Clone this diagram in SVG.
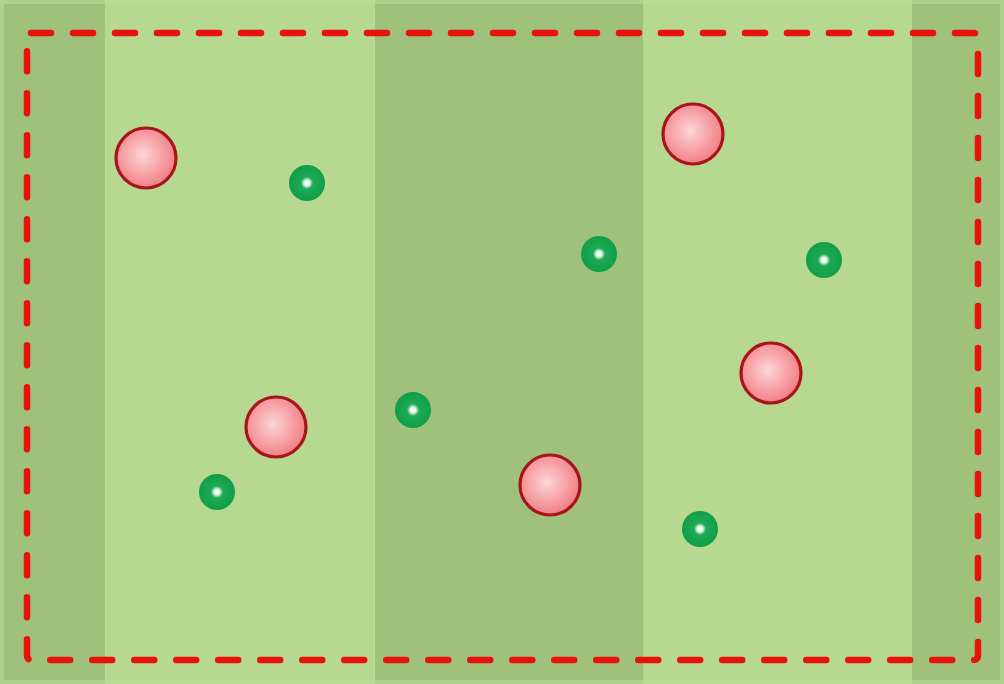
<svg xmlns="http://www.w3.org/2000/svg" width="1004" height="684" viewBox="0 0 1004 684">
  <defs>
    <radialGradient id="redFill" cx="0.45" cy="0.45" r="0.6">
      <stop offset="0" stop-color="#fbd6d6"/>
      <stop offset="0.5" stop-color="#f7a6aa"/>
      <stop offset="1" stop-color="#f07880"/>
    </radialGradient>
    <radialGradient id="greenFill" cx="0.5" cy="0.5" r="0.5">
      <stop offset="0" stop-color="#ffffff"/>
      <stop offset="0.16" stop-color="#dff5e4"/>
      <stop offset="0.34" stop-color="#1caa55"/>
      <stop offset="1" stop-color="#119e49"/>
    </radialGradient>
    <style>
      .light { fill: #b7d890; }
      .dark { fill: #9fc17c; }
      .tree { fill: url(#redFill); stroke: #a8141a; stroke-width: 3.2; }
      .dot { fill: url(#greenFill); }
      .border { fill: none; stroke: #e8120c; stroke-width: 6.5; stroke-dasharray: 20 22; stroke-linecap: round; stroke-linejoin: round; }
    </style>
  </defs>

  <g id="field">
    <rect class="light" x="0" y="0" width="1004" height="684"/>
    <rect class="dark" x="0" y="0" width="105" height="684"/>
    <rect class="light" x="105" y="0" width="270" height="684"/>
    <rect class="dark" x="375" y="0" width="268" height="684"/>
    <rect class="light" x="643" y="0" width="269" height="684"/>
    <rect class="dark" x="912" y="0" width="92" height="684"/>
    <rect x="2" y="2" width="1000" height="680" fill="none" stroke="#bcdc9a" stroke-width="4" opacity="0.6"/>
  </g>

  <g id="boundary">
    <rect class="border" x="27" y="33" width="951" height="627" rx="4"/>
  </g>

  <g id="trees">
    <circle class="tree" cx="146" cy="158" r="30"/>
    <circle class="tree" cx="693" cy="134" r="30"/>
    <circle class="tree" cx="276" cy="427" r="30"/>
    <circle class="tree" cx="771" cy="373" r="30"/>
    <circle class="tree" cx="550" cy="485" r="30"/>
  </g>

  <g id="points">
    <circle class="dot" cx="307" cy="183" r="18"/>
    <circle class="dot" cx="599" cy="254" r="18"/>
    <circle class="dot" cx="824" cy="260" r="18"/>
    <circle class="dot" cx="413" cy="410" r="18"/>
    <circle class="dot" cx="217" cy="492" r="18"/>
    <circle class="dot" cx="700" cy="529" r="18"/>
  </g>
</svg>
